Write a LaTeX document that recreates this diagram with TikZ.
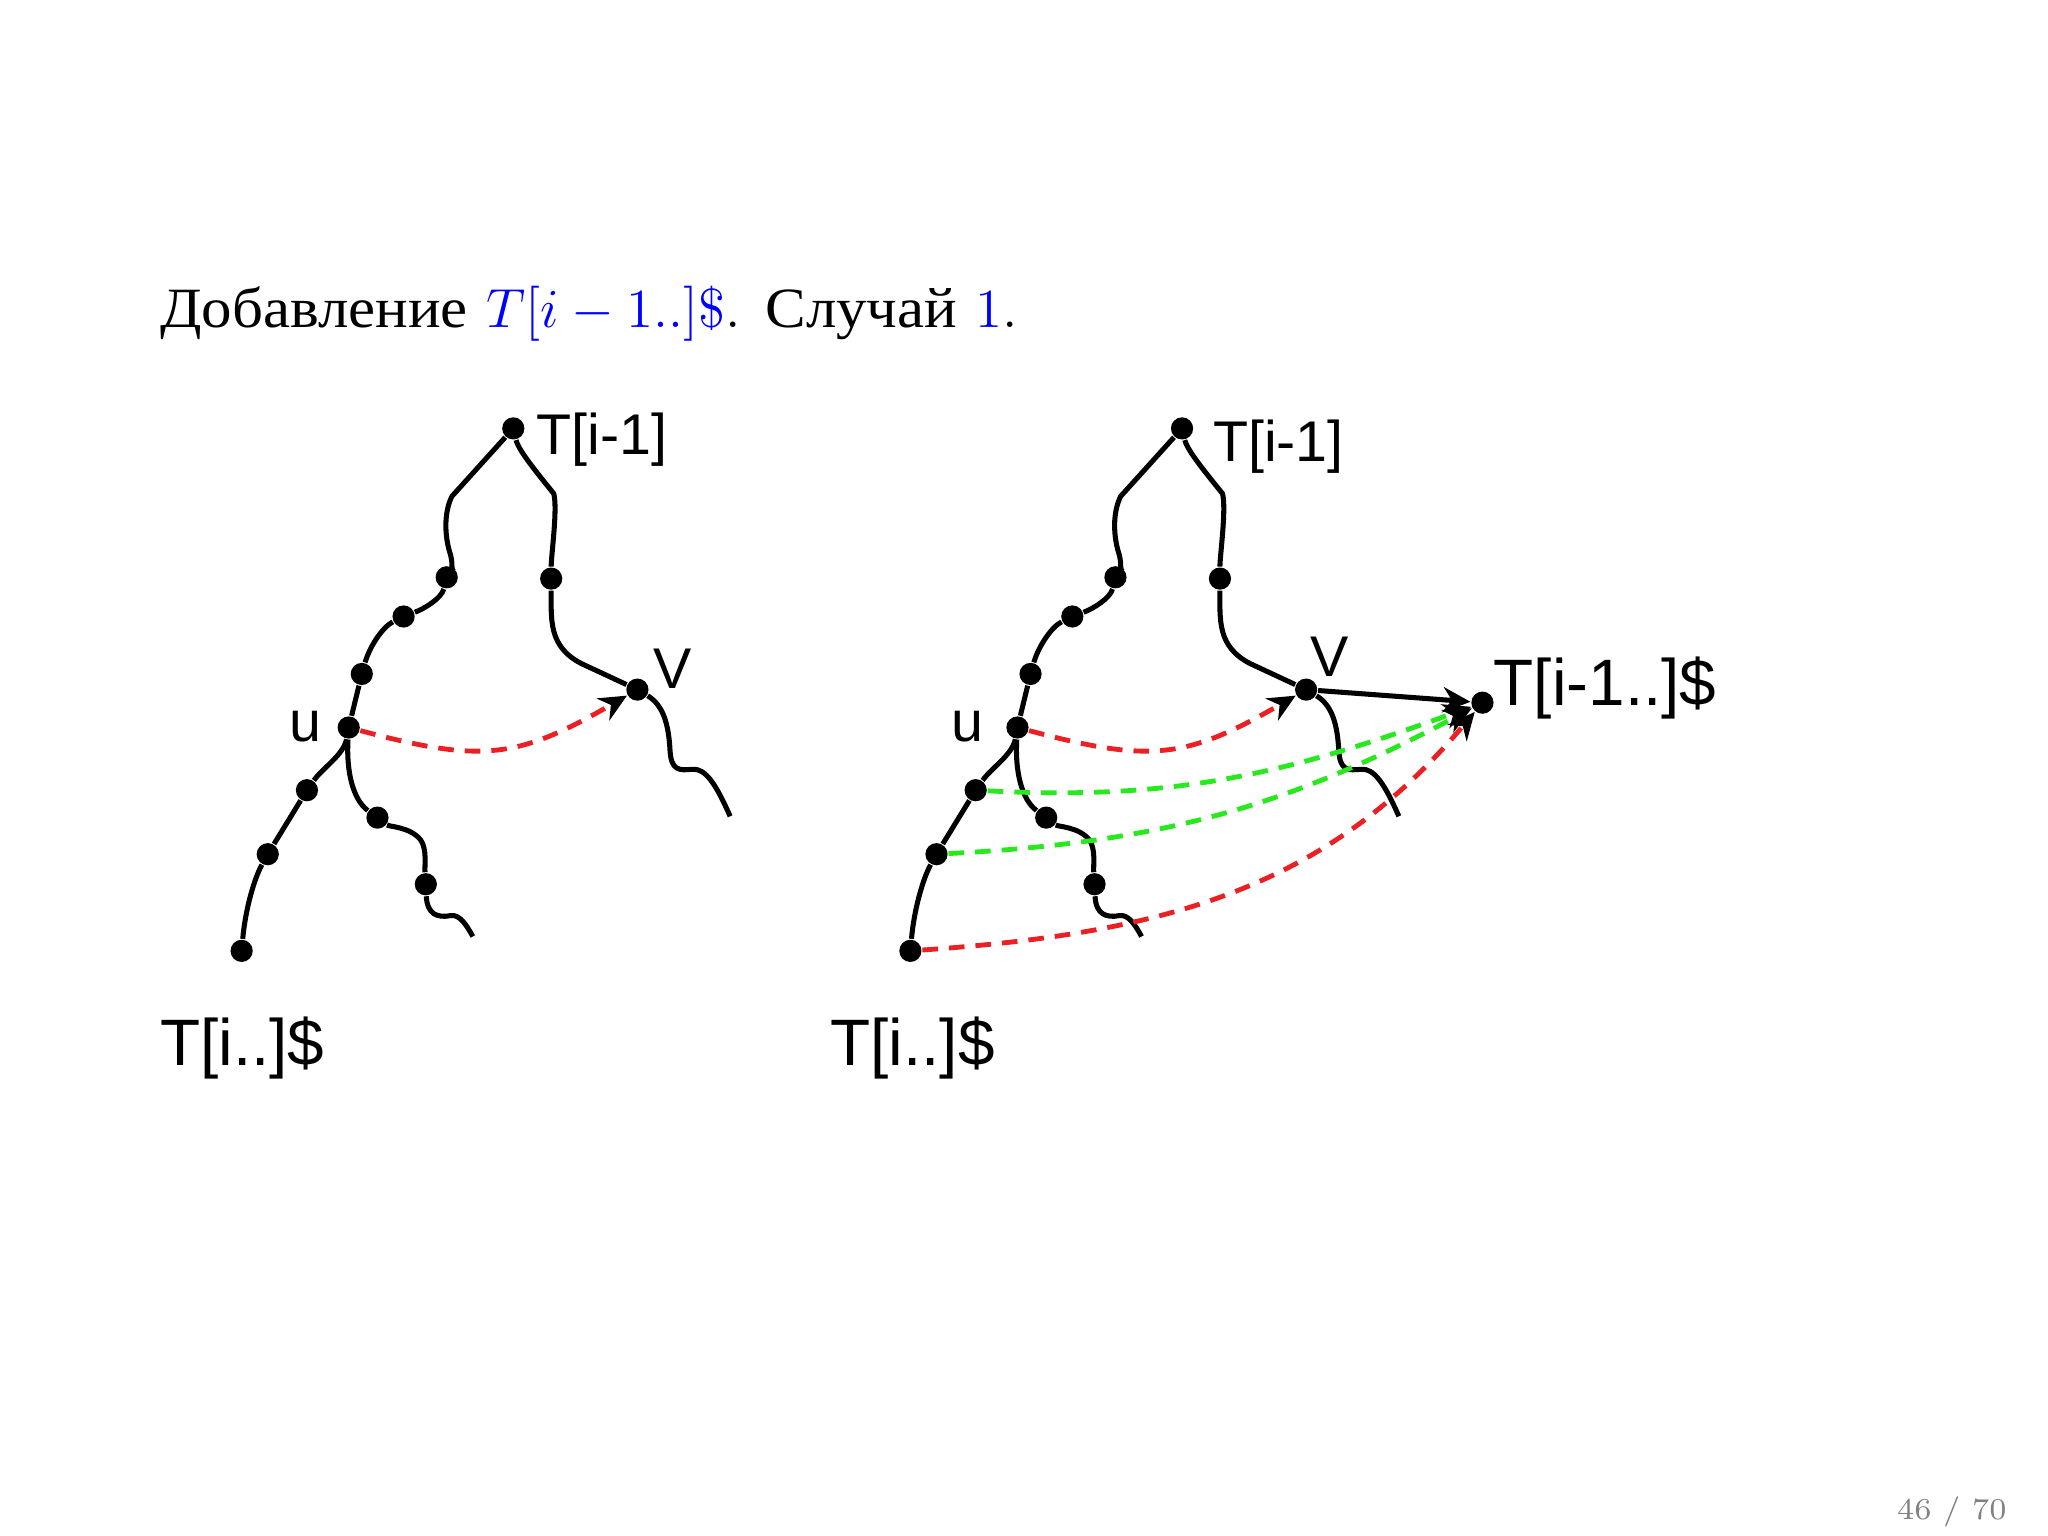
\documentclass[tikz,border=0pt]{standalone}
\usepackage{fontspec}
\usetikzlibrary{arrows.meta}
\newfontfamily\cyrfont[FakeStretch=1.07]{Liberation Serif}
\newfontfamily\labelfont{Liberation Sans}
\definecolor{linkred}{RGB}{235,32,36}
\definecolor{linkgreen}{RGB}{40,232,30}
\definecolor{pagegray}{RGB}{128,128,128}

\begin{document}
\begin{tikzpicture}[
    dot/.style={circle, fill=black, inner sep=0pt, minimum size=0.17cm},
    branch/.style={line width=1.1pt},
    lbl/.style={inner sep=0pt, anchor=base west, font={\labelfont\fontsize{12.5}{15}\selectfont}},
    biglbl/.style={lbl, font={\labelfont\fontsize{14.3}{17}\selectfont}},
    tip/.style={-{Stealth[length=6pt, width=5.5pt, color=black]}},
    redlink/.style={tip, draw=linkred, line width=1.05pt, dash pattern=on 3.4pt off 2.4pt, out=-15, in=210, looseness=1.2},
    greenlink/.style={redlink, draw=linkgreen, looseness=1}
  ]

    % Page frame
    \fill[white] (0,0) rectangle (15.68,-11.76);
    \useasboundingbox (0,0) rectangle (15.68,-11.76);

    % Title and page number
    \node[anchor=base west, inner sep=0pt, font={\fontsize{12.4}{15}\selectfont}] (title) at (1.22,-2.51)
      {{\cyrfont Добавление} \textcolor{blue}{$T[i-1..]\$$}. {\cyrfont Случай} \textcolor{blue}{$1$}.};
    \node[anchor=base east, inner sep=0pt, text=pagegray, font={\fontsize{6.6}{8}\selectfont}] (page) at (15.37,-11.63) {46 / 70};

    % Left side (before)
    % Define dots for left tree
    \node[dot] (lr) at (3.93,-3.28) {};
    \node[dot] (la1) at (3.42,-4.42) {};
    \node[dot] (la2) at (3.09,-4.72) {};
    \node[dot] (la3) at (2.77,-5.16) {};
    \node[dot] (lu) at (2.67,-5.57) {};
    \node[dot] (la4) at (2.35,-6.05) {};
    \node[dot] (la5) at (2.05,-6.54) {};
    \node[dot] (lb) at (1.85,-7.28) {};
    \node[dot] (lb1) at (4.22,-4.43) {};
    \node[dot] (lv) at (4.88,-5.28) {};
    \node[dot] (lc1) at (2.89,-6.26) {};
    \node[dot] (lc2) at (3.26,-6.77) {};
    \coordinate (lk1) at (3.46,-3.80);
    \coordinate (lk2) at (4.24,-3.78);
    \coordinate (lend1) at (5.59,-6.25);
    \coordinate (lend2) at (3.62,-7.17);

    % Draw branches
    \draw[branch] (lr) -- (lk1) .. controls (3.40,-3.92) and (3.40,-4.10) .. (3.45,-4.25)
      .. controls (3.47,-4.33) and (3.45,-4.38) .. (la1);
    \draw[branch] (la1) .. controls (3.38,-4.58) and (3.25,-4.66) .. (la2);
    \draw[branch] (la2) .. controls (2.93,-4.80) and (2.83,-4.95) .. (la3) -- (lu);
    \draw[branch] (lu) .. controls (2.63,-5.78) and (2.47,-5.88) .. (la4) -- (la5);
    \draw[branch] (la5) .. controls (1.95,-6.72) and (1.88,-6.95) .. (lb);
    \draw[branch] (lr) .. controls (3.97,-3.45) and (4.12,-3.63) .. (lk2)
      .. controls (4.27,-3.90) and (4.22,-4.25) .. (lb1);
    \draw[branch] (lb1) .. controls (4.22,-4.75) and (4.20,-4.95) .. (4.45,-5.08) -- (lv);
    \draw[branch] (lv) .. controls (5.08,-5.40) and (5.12,-5.55) .. (5.13,-5.75)
      .. controls (5.14,-5.90) and (5.20,-5.90) .. (5.30,-5.89)
      .. controls (5.40,-5.88) and (5.48,-6.00) .. (lend1);
    \draw[branch] (lu) .. controls (2.65,-5.90) and (2.70,-6.12) .. (lc1)
      .. controls (2.98,-6.33) and (3.14,-6.33) .. (3.22,-6.43)
      .. controls (3.27,-6.50) and (3.25,-6.62) .. (lc2)
      .. controls (3.27,-7.00) and (3.35,-7.03) .. (3.45,-7.01)
      .. controls (3.52,-7.00) and (3.57,-7.08) .. (lend2);

    % Suffix link
    \draw[redlink] (lu) to (lv);

    % Labels
    \node[lbl] (lrlabel) at (4.10,-3.48) {T[i-1]};
    \node[lbl] (lulabel) at (2.21,-5.68) {u};
    \node[lbl] (lvlabel) at (5.00,-5.27) {V};
    \node[biglbl] (lblabel) at (1.22,-8.16) {T[i..]\$};

    % Right side (after, shifted right)
    \begin{scope}[xshift=5.12cm]
    % Define dots for right tree
    \node[dot] (rr) at (3.93,-3.28) {};
    \node[dot] (ra1) at (3.42,-4.42) {};
    \node[dot] (ra2) at (3.09,-4.72) {};
    \node[dot] (ra3) at (2.77,-5.16) {};
    \node[dot] (ru) at (2.67,-5.57) {};
    \node[dot] (ra4) at (2.35,-6.05) {};
    \node[dot] (ra5) at (2.05,-6.54) {};
    \node[dot] (rb) at (1.85,-7.28) {};
    \node[dot] (rb1) at (4.22,-4.43) {};
    \node[dot] (rv) at (4.88,-5.28) {};
    \node[dot] (rc1) at (2.89,-6.26) {};
    \node[dot] (rc2) at (3.26,-6.77) {};
    \node[dot] (rw) at (6.23,-5.38) {};  % New leaf
    \coordinate (rk1) at (3.46,-3.80);
    \coordinate (rk2) at (4.24,-3.78);
    \coordinate (rend1) at (5.59,-6.25);
    \coordinate (rend2) at (3.62,-7.17);

    % Draw branches
    \draw[branch] (rr) -- (rk1) .. controls (3.40,-3.92) and (3.40,-4.10) .. (3.45,-4.25)
      .. controls (3.47,-4.33) and (3.45,-4.38) .. (ra1);
    \draw[branch] (ra1) .. controls (3.38,-4.58) and (3.25,-4.66) .. (ra2);
    \draw[branch] (ra2) .. controls (2.93,-4.80) and (2.83,-4.95) .. (ra3) -- (ru);
    \draw[branch] (ru) .. controls (2.63,-5.78) and (2.47,-5.88) .. (ra4) -- (ra5);
    \draw[branch] (ra5) .. controls (1.95,-6.72) and (1.88,-6.95) .. (rb);
    \draw[branch] (rr) .. controls (3.97,-3.45) and (4.12,-3.63) .. (rk2)
      .. controls (4.27,-3.90) and (4.22,-4.25) .. (rb1);
    \draw[branch] (rb1) .. controls (4.22,-4.75) and (4.20,-4.95) .. (4.45,-5.08) -- (rv);
    \draw[branch] (rv) .. controls (5.08,-5.40) and (5.12,-5.55) .. (5.13,-5.75)
      .. controls (5.14,-5.90) and (5.20,-5.90) .. (5.30,-5.89)
      .. controls (5.40,-5.88) and (5.48,-6.00) .. (rend1);
    \draw[branch] (ru) .. controls (2.65,-5.90) and (2.70,-6.12) .. (rc1)
      .. controls (2.98,-6.33) and (3.14,-6.33) .. (3.22,-6.43)
      .. controls (3.27,-6.50) and (3.25,-6.62) .. (rc2)
      .. controls (3.27,-7.00) and (3.35,-7.03) .. (3.45,-7.01)
      .. controls (3.52,-7.00) and (3.57,-7.08) .. (rend2);
    \draw[branch, tip] (rv) -- (rw);

    % Suffix links
    \draw[redlink] (ru) to (rv);
    \draw[greenlink] (ra4) to[out=-3, in=200] (rw);
    \draw[greenlink] (ra5) to[out=3, in=208] (rw);
    \draw[redlink] (rb) to[out=4, in=230, looseness=1] (rw);
    \end{scope}

    % Labels
    \node[lbl] (rrlabel) at (9.28,-3.53) {T[i-1]};
    \node[lbl] (rulabel) at (7.28,-5.68) {u};
    \node[lbl] (rvlabel) at (10.03,-5.18) {V};
    \node[biglbl] (rwlabel) at (11.43,-5.40) {T[i-1..]\$};
    \node[biglbl] (rblabel) at (6.35,-8.16) {T[i..]\$};

\end{tikzpicture}
\end{document}
